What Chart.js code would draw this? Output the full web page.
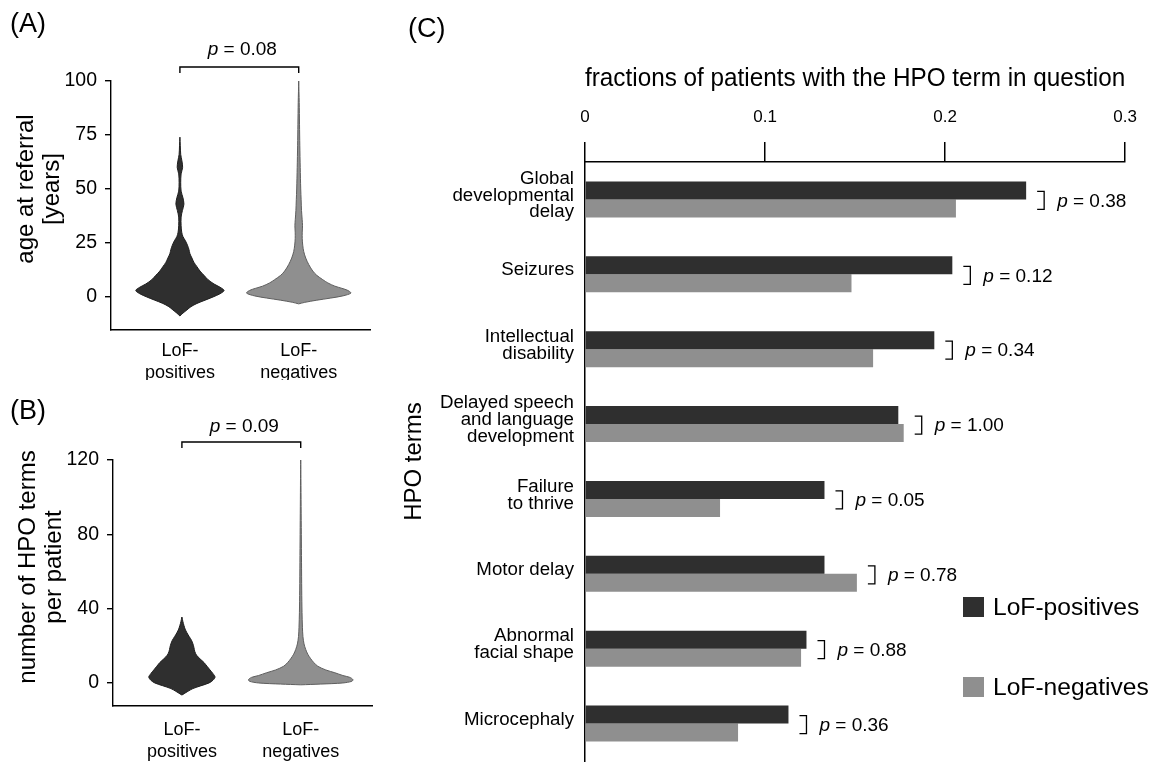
<!DOCTYPE html>
<html>
<head>
<meta charset="utf-8">
<script src="https://cdn.jsdelivr.net/npm/chart.js@4.4.1/dist/chart.umd.min.js"></script>
<style>
  body { margin: 0; background: #fff; }
  #wrap { position: relative; width: 1151px; height: 762px; font-family: "Liberation Sans", Arial, sans-serif; color: #000; }
  canvas { position: absolute; }
  .tag { position: absolute; font-size: 27px; line-height: 1; }
  .ytitle { position: absolute; font-size: 24px; line-height: 26px; text-align: center; white-space: nowrap;
            transform: translate(-50%, -50%) rotate(-90deg); }
</style>
</head>
<body>
<div id="wrap">
  <canvas id="ageChart" width="395" height="380" style="left:0;top:0"></canvas>
  <canvas id="hpoChart" width="395" height="382" style="left:0;top:380px"></canvas>
  <canvas id="termChart" width="756" height="762" style="left:395px;top:0"></canvas>
  <div class="tag" style="left:10px;top:10px">(A)</div>
  <div class="tag" style="left:10px;top:397px">(B)</div>
  <div class="tag" style="left:408px;top:15px">(C)</div>
  <div class="ytitle" style="left:38px;top:189px">age at referral<br>[years]</div>
  <div class="ytitle" style="left:40px;top:567px">number of HPO terms<br>per patient</div>
</div>
<script>
// groups of the violin panels
const groupTicks = [['LoF-', 'positives'], ['LoF-', 'negatives']];

// (A) age at referral [years]: levels and relative density of each violin
const ageLevelsPos = [-8.8, -7.5, -6, -4.5, -3, -1.5, 0, 1.5, 3, 4.5, 6, 8, 10, 12, 14, 16, 18, 20, 22, 24, 26, 28, 30, 33, 37, 40, 43, 46, 49, 53, 57, 60, 63, 66, 70, 74];
const ageDensityPos = [0, 0.03, 0.07, 0.11, 0.17, 0.25, 0.33, 0.40, 0.44, 0.40, 0.34, 0.28, 0.24, 0.20, 0.17, 0.14, 0.12, 0.10, 0.09, 0.075, 0.055, 0.03, 0.018, 0.012, 0.012, 0.025, 0.04, 0.03, 0.012, 0.008, 0.012, 0.027, 0.02, 0.008, 0.004, 0];
const ageLevelsNeg = [-3.2, -2.5, -1.5, -0.5, 0.5, 1.8, 3, 4, 5, 6.5, 8, 10, 12, 15, 18, 21, 24, 27, 30, 33, 36, 40, 45, 50, 60, 70, 80, 90, 100];
const ageDensityNeg = [0, 0.06, 0.18, 0.32, 0.44, 0.52, 0.49, 0.43, 0.36, 0.29, 0.24, 0.18, 0.14, 0.10, 0.07, 0.05, 0.04, 0.035, 0.035, 0.038, 0.034, 0.028, 0.024, 0.02, 0.015, 0.011, 0.008, 0.005, 0];
const ageTicks = [0, 25, 50, 75, 100];
const pAge = '0.08';

// (B) number of HPO terms per patient
const hpoLevelsPos = [-6.5, -5.5, -4.5, -3, -1.5, 0, 1.5, 3.2, 5, 7, 9, 11, 13, 15, 17, 19, 21, 23, 25, 27, 29, 31, 33, 35.5];
const hpoDensityPos = [0, 0.03, 0.06, 0.11, 0.19, 0.27, 0.31, 0.33, 0.31, 0.28, 0.25, 0.22, 0.18, 0.145, 0.128, 0.12, 0.11, 0.095, 0.072, 0.05, 0.032, 0.02, 0.01, 0];
const hpoLevelsNeg = [-1, -0.6, 0, 0.9, 1.8, 3, 4, 5.5, 7, 9, 11, 13, 15.5, 18, 21, 25, 30, 38, 50, 65, 80, 95, 110, 120];
const hpoDensityNeg = [0, 0.2, 0.42, 0.51, 0.52, 0.49, 0.42, 0.34, 0.25, 0.17, 0.13, 0.10, 0.07, 0.05, 0.033, 0.022, 0.017, 0.013, 0.01, 0.008, 0.006, 0.004, 0.002, 0];
const hpoTicks = [0, 40, 80, 120];
const pHpo = '0.09';

// (C) fractions of patients with each HPO term
const terms = [
  ['Global', 'developmental', 'delay'],
  ['Seizures'],
  ['Intellectual', 'disability'],
  ['Delayed speech', 'and language', 'development'],
  ['Failure', 'to thrive'],
  ['Motor delay'],
  ['Abnormal', 'facial shape'],
  ['Microcephaly']
];
const fracPos = [0.245, 0.204, 0.194, 0.174, 0.133, 0.133, 0.123, 0.113];
const fracNeg = [0.206, 0.148, 0.160, 0.177, 0.075, 0.151, 0.120, 0.085];
const pValues = ['0.38', '0.12', '0.34', '1.00', '0.05', '0.78', '0.88', '0.36'];
const fracTicks = [0, 0.1, 0.2, 0.3];

const FONT = '"Liberation Sans", Arial, sans-serif';
const DARK = '#2f2f2f';
const GREY = '#8f8f8f';
const VIOLIN_SCALE = 0.845;   // density -> x units

Chart.defaults.font.family = FONT;
Chart.defaults.color = '#000';

// closed outline of one violin
function violin(center, levels, dens) {
  const right = levels.map((y, i) => ({x: center + dens[i] * VIOLIN_SCALE, y: y}));
  const left = levels.map((y, i) => ({x: center - dens[i] * VIOLIN_SCALE, y: y})).reverse();
  return right.concat(left);
}

// italic p followed by " = value"
function drawP(ctx, value, x, y, align) {
  const it = 'italic 19px ' + FONT;
  const up = '19px ' + FONT;
  const rest = ' = ' + value;
  ctx.font = it;
  const w1 = ctx.measureText('p').width;
  ctx.font = up;
  const w2 = ctx.measureText(rest).width;
  const sx = align === 'center' ? x - (w1 + w2) / 2 : x;
  ctx.fillStyle = '#000';
  ctx.textBaseline = 'middle';
  ctx.textAlign = 'left';
  ctx.font = it;
  ctx.fillText('p', sx, y);
  ctx.font = up;
  ctx.fillText(rest, sx + w1, y);
}

// bracket over the two violins
function bracketPlugin(p, lift, textLift) {
  return {
    id: 'bracket',
    afterDraw(chart) {
      const ctx = chart.ctx;
      const x1 = chart.scales.x.getPixelForValue(1);
      const x2 = chart.scales.x.getPixelForValue(2);
      const y = chart.chartArea.top - lift;
      ctx.save();
      ctx.strokeStyle = '#000';
      ctx.lineWidth = 1.4;
      ctx.beginPath();
      ctx.moveTo(x1, y + 6);
      ctx.lineTo(x1, y);
      ctx.lineTo(x2, y);
      ctx.lineTo(x2, y + 6);
      ctx.stroke();
      drawP(ctx, p, (x1 + x2) / 2 + 3, chart.chartArea.top - textLift, 'center');
      ctx.restore();
    }
  };
}

function violinChart(id, sets, opts) {
  return new Chart(document.getElementById(id), {
    type: 'scatter',
    data: {
      datasets: [
        {data: violin(1, sets[0], sets[1]), backgroundColor: DARK, borderColor: '#1e1e1e'},
        {data: violin(2, sets[2], sets[3]), backgroundColor: GREY, borderColor: '#5e5e5e'}
      ].map(d => Object.assign(d, {showLine: true, fill: 'shape', pointRadius: 0, borderWidth: 1, tension: 0.3}))
    },
    options: {
      responsive: false,
      animation: false,
      events: [],
      layout: {padding: opts.padding},
      plugins: {legend: {display: false}, tooltip: {enabled: false}},
      scales: {
        x: {
          type: 'linear', min: 0.42, max: 2.6,
          afterBuildTicks: s => { s.ticks = [1, 2].map(v => ({value: v})); },
          ticks: {callback: v => groupTicks[v - 1], padding: opts.xPad, font: {size: 18, lineHeight: 1.22}},
          grid: {display: false, drawTicks: false},
          border: {color: '#000', width: 1.4},
          afterFit: s => { s.height = opts.xHeight; }
        },
        y: {
          min: opts.yMin, max: opts.yMax,
          afterBuildTicks: s => { s.ticks = opts.yTicks.map(v => ({value: v})); },
          ticks: {padding: 8, font: {size: 19.5}},
          grid: {drawOnChartArea: false, drawTicks: true, tickLength: 6, color: '#000', lineWidth: 1.4},
          border: {color: '#000', width: 1.4},
          afterFit: s => { s.width = opts.yWidth; }
        }
      }
    },
    plugins: [bracketPlugin(opts.p, opts.lift, opts.textLift)]
  });
}

violinChart('ageChart', [ageLevelsPos, ageDensityPos, ageLevelsNeg, ageDensityNeg], {
  padding: {top: 81, right: 25, bottom: 0, left: 0},
  xPad: 10, xHeight: 50, yWidth: 111, yMin: -15.3, yMax: 100, yTicks: ageTicks,
  p: pAge, lift: 14, textLift: 31
});

violinChart('hpoChart', [hpoLevelsPos, hpoDensityPos, hpoLevelsNeg, hpoDensityNeg], {
  padding: {top: 80, right: 23, bottom: 0, left: 0},
  xPad: 13, xHeight: 56, yWidth: 113, yMin: -12.4, yMax: 120, yTicks: hpoTicks,
  p: pHpo, lift: 18, textLift: 33
});

// p-values next to each pair of bars
const pairPValues = {
  id: 'pairPValues',
  afterDatasetsDraw(chart) {
    const {ctx, scales: {x, y}} = chart;
    ctx.save();
    ctx.strokeStyle = '#000';
    ctx.lineWidth = 1.3;
    pValues.forEach((p, i) => {
      const bx = x.getPixelForValue(Math.max(fracPos[i], fracNeg[i])) + 18;
      const cy = y.getPixelForValue(i) + 1;
      ctx.beginPath();
      ctx.moveTo(bx - 7, cy - 9);
      ctx.lineTo(bx, cy - 9);
      ctx.lineTo(bx, cy + 9);
      ctx.lineTo(bx - 7, cy + 9);
      ctx.stroke();
      drawP(ctx, p, bx + 13, cy + 1, 'left');
    });
    ctx.restore();
  }
};

// legend in the lower right corner
const sideLegend = {
  id: 'sideLegend',
  afterDraw(chart) {
    const ctx = chart.ctx;
    const rows = [607, 687];
    ctx.save();
    chart.data.datasets.forEach((ds, i) => {
      ctx.fillStyle = ds.backgroundColor;
      ctx.fillRect(568, rows[i] - 10, 21, 20);
      ctx.fillStyle = '#000';
      ctx.font = '24.6px ' + FONT;
      ctx.textBaseline = 'middle';
      ctx.textAlign = 'left';
      ctx.fillText(ds.label, 598, rows[i] + 1);
    });
    ctx.restore();
  }
};

new Chart(document.getElementById('termChart'), {
  type: 'bar',
  data: {
    labels: terms,
    datasets: [
      {label: 'LoF-positives', data: fracPos, backgroundColor: DARK, categoryPercentage: 0.48, barPercentage: 1},
      {label: 'LoF-negatives', data: fracNeg, backgroundColor: GREY, categoryPercentage: 0.48, barPercentage: 1}
    ]
  },
  options: {
    indexAxis: 'y',
    responsive: false,
    animation: false,
    events: [],
    layout: {padding: {top: 0, right: 25, bottom: 1, left: 0}},
    plugins: {legend: {display: false}, tooltip: {enabled: false}},
    scales: {
      x: {
        position: 'top', min: 0, max: 0.3,
        afterBuildTicks: s => { s.ticks = fracTicks.map(v => ({value: v})); },
        ticks: {padding: 14, font: {size: 17}},
        grid: {drawOnChartArea: false, drawTicks: true, tickLength: 20, color: '#000', lineWidth: 1.5},
        border: {color: '#000', width: 1.5},
        title: {display: true, text: 'fractions of patients with the HPO term in question', font: {size: 26.4}, padding: {top: 63, bottom: 0}},
        afterFit: s => { s.height = 162; }
      },
      y: {
        ticks: {padding: 11, labelOffset: -4, font: {size: 18.7, lineHeight: 0.9}},
        grid: {display: false, drawTicks: false},
        border: {color: '#000', width: 1.5},
        title: {display: true, text: 'HPO terms', font: {size: 24}, padding: {top: 5, bottom: 0}},
        afterFit: s => { s.width = 190; s.paddingTop = 0; s.paddingBottom = 0; }
      }
    }
  },
  plugins: [pairPValues, sideLegend]
});
</script>
</body>
</html>
